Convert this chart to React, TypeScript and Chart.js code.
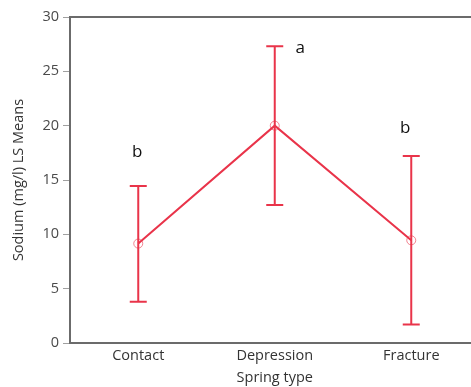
import { useEffect, useRef } from "react";
import { Chart, registerables } from "chart.js";

Chart.register(...registerables);

const categories = ["Contact", "Depression", "Fracture"];
const means = [9.15, 20.0, 9.45];
const upperCI = [14.45, 27.3, 17.2];
const lowerCI = [3.8, 12.7, 1.7];
const groupLetters = ["b", "a", "b"];
const letterLevels = [17.15, 26.7, 19.3];
const yTickValues = [0, 5, 10, 15, 20, 25, 30];

const RED = "rgb(233, 52, 74)";
const AXIS = "#6b6b6b";
const FONT = "'Open Sans', 'Noto Sans', sans-serif";
const FS = 14.5;

const extrasPlugin = {
  id: "extras",
  afterDatasetsDraw(chart: any) {
    const { ctx, chartArea, scales } = chart;
    const x = scales.x;
    const y = scales.y;
    ctx.save();
    // top border
    ctx.strokeStyle = AXIS;
    ctx.lineWidth = 2;
    ctx.beginPath();
    ctx.moveTo(chartArea.left, chartArea.top);
    ctx.lineTo(chartArea.right, chartArea.top);
    ctx.stroke();
    // error bars
    ctx.strokeStyle = RED;
    ctx.lineWidth = 2;
    const cap = 8.5;
    for (let i = 0; i < categories.length; i++) {
      const px = x.getPixelForValue(i);
      const yt = y.getPixelForValue(upperCI[i]);
      const yb = y.getPixelForValue(lowerCI[i]);
      ctx.beginPath();
      ctx.moveTo(px, yt);
      ctx.lineTo(px, yb);
      ctx.moveTo(px - cap, yt);
      ctx.lineTo(px + cap, yt);
      ctx.moveTo(px - cap, yb);
      ctx.lineTo(px + cap, yb);
      ctx.stroke();
    }
    // letters
    const dx = [-1, 25.5, -6];
    ctx.fillStyle = "#111111";
    ctx.font = `500 17px ${FONT}`;
    ctx.textAlign = "center";
    ctx.textBaseline = "alphabetic";
    for (let i = 0; i < groupLetters.length; i++) {
      ctx.fillText(
        groupLetters[i],
        x.getPixelForValue(i) + dx[i],
        y.getPixelForValue(letterLevels[i])
      );
    }
    ctx.restore();
  },
};

export default function App() {
  const ref = useRef<HTMLCanvasElement | null>(null);
  useEffect(() => {
    if (!ref.current) return;
    const chart = new Chart(ref.current, {
      type: "line",
      data: {
        labels: categories,
        datasets: [
          {
            data: means,
            borderColor: RED,
            borderWidth: 2,
            pointRadius: 4.5,
            pointBorderWidth: 1,
            pointBorderColor: "rgba(233, 52, 74, 0.6)",
            pointBackgroundColor: "rgba(255,255,255,0)",
            tension: 0,
          },
        ],
      },
      options: {
        responsive: false,
        animation: false,
        layout: { padding: { top: 17, left: 0, right: 0, bottom: 0 } },
        plugins: {
          legend: { display: false },
          tooltip: { enabled: false },
        },
        scales: {
          x: {
            type: "category",
            offset: true,
            grid: { display: false, drawTicks: false, tickLength: 0 },
            border: { display: true, color: AXIS, width: 2 },
            ticks: {
              color: "#333333",
              font: { family: FONT, size: FS },
              padding: 4,
              maxRotation: 0,
            },
            title: {
              display: true,
              text: "Spring type",
              color: "#333333",
              font: { family: FONT, size: FS },
              padding: { top: 0, bottom: 0 },
            },
            afterFit(scale: any) {
              scale.height = 44;
            },
          },
          y: {
            min: 0,
            max: 30,
            afterBuildTicks(scale: any) {
              scale.ticks = yTickValues.map((v) => ({ value: v }));
            },
            grid: {
              display: true,
              drawOnChartArea: false,
              drawTicks: true,
              tickLength: 7,
              color: "#a0a0a0",
              lineWidth: 1,
            },
            border: { display: true, color: AXIS, width: 2 },
            ticks: {
              color: "#4a4a4a",
              font: { family: FONT, size: FS },
              padding: 4,
            },
            title: {
              display: true,
              text: "Sodium (mg/l) LS Means",
              color: "#333333",
              font: { family: FONT, size: FS },
              padding: { top: 10, bottom: 0 },
            },
            afterFit(scale: any) {
              scale.width = 70;
            },
          },
        },
      },
      plugins: [extrasPlugin],
    });
    return () => chart.destroy();
  }, []);
  return (
    <div
      style={{
        position: "fixed",
        left: 0,
        top: 0,
        width: 471,
        height: 387,
        overflow: "hidden",
        background: "#fff",
      }}
    >
      <canvas ref={ref} width={485} height={387} style={{ display: "block" }} />
    </div>
  );
}
